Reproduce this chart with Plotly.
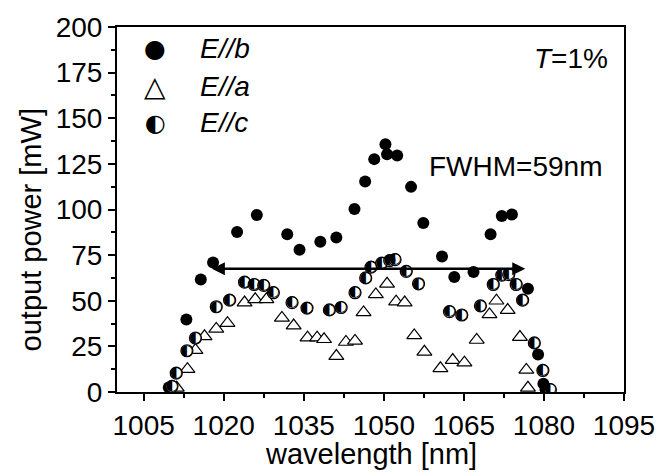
import plotly.graph_objects as go

# E//b (filled circles)
b_wl = [1009.7, 1013.0, 1015.7, 1018.0, 1022.5, 1026.2, 1031.9, 1034.2, 1038.1, 1041.1,
        1044.5, 1046.5, 1048.2, 1050.3, 1050.6, 1052.5, 1055.1, 1057.4, 1060.9, 1063.2,
        1066.8, 1070.0, 1072.1, 1074.0, 1077.0, 1078.9, 1079.9, 1080.3]
b_pw = [2.5, 39.7, 61.6, 71.0, 87.7, 97.0, 86.4, 78.0, 82.3, 84.6,
        100.3, 115.4, 127.6, 135.7, 130.3, 129.6, 112.4, 92.6, 74.2, 63.0,
        65.7, 86.4, 96.5, 97.2, 56.6, 20.6, 4.5, 1.5]

# E//a (open triangles)
a_wl = [1011.2, 1013.2, 1014.7, 1016.4, 1018.6, 1020.7, 1023.9, 1025.9, 1028.0, 1030.9,
        1033.1, 1035.7, 1037.5, 1038.8, 1041.1, 1042.9, 1044.6, 1046.2, 1048.5, 1050.6,
        1052.3, 1053.9, 1055.7, 1057.6, 1060.6, 1062.9, 1065.1, 1067.4, 1069.8, 1071.1,
        1073.2, 1075.5, 1076.7, 1077.0]
a_pw = [2.3, 12.5, 22.9, 30.5, 34.6, 37.7, 49.0, 50.8, 50.8, 40.6,
        36.4, 29.8, 29.8, 28.9, 19.7, 27.4, 28.0, 43.6, 53.5, 59.3,
        49.5, 49.0, 31.0, 22.0, 13.0, 17.5, 16.1, 28.5, 42.5, 50.0,
        44.9, 30.1, 12.1, 2.3]

# E//c (half-filled circles)
c_wl = [1010.3, 1011.1, 1013.1, 1014.7, 1018.6, 1021.1, 1023.9, 1025.7, 1027.5, 1029.3,
        1032.8, 1035.6, 1039.8, 1042.0, 1044.6, 1046.6, 1047.6, 1049.6, 1051.1, 1052.1,
        1054.2, 1056.5, 1062.3, 1064.6, 1068.1, 1070.5, 1072.1, 1073.4, 1074.8, 1076.0,
        1078.2, 1079.8, 1081.2]
c_pw = [3.1, 10.3, 22.6, 29.6, 46.7, 50.3, 60.2, 58.9, 58.4, 54.4,
        49.0, 46.0, 45.0, 46.3, 54.4, 62.5, 68.4, 70.6, 72.0, 72.5,
        66.1, 59.3, 44.0, 42.2, 47.2, 58.9, 64.0, 64.3, 58.9, 50.3,
        26.9, 11.8, 1.3]

# FWHM arrow
fwhm_start = 1017.5
fwhm_end = 1076.5
fwhm_level = 67.5

x_ticks = [1005, 1020, 1035, 1050, 1065, 1080, 1095]
y_ticks = [0, 25, 50, 75, 100, 125, 150, 175, 200]

FONT = "Liberation Sans, Arial, sans-serif"
SYMFONT = "DejaVu Sans"

fig = go.Figure()

fig.add_trace(go.Scatter(
    x=a_wl, y=a_pw, mode="markers", name="E//a",
    marker=dict(symbol="triangle-up", size=13, color="white",
                line=dict(color="black", width=1.2))))

fig.add_trace(go.Scatter(
    x=b_wl, y=b_pw, mode="markers", name="E//b",
    marker=dict(symbol="circle", size=12, color="black",
                line=dict(color="black", width=0))))

fig.add_trace(go.Scatter(
    x=c_wl, y=c_pw, mode="markers", name="E//c",
    marker=dict(symbol="circle", size=12, color="white",
                line=dict(color="black", width=1.2))))

fig.add_trace(go.Scatter(
    x=c_wl, y=c_pw, mode="text", name="E//c half",
    text=["\u25D0"] * len(c_wl), textposition="middle center",
    textfont=dict(family=SYMFONT, size=15, color="black"),
    hoverinfo="skip"))

fig.add_annotation(
    x=fwhm_end, y=fwhm_level, ax=fwhm_start, ay=fwhm_level,
    xref="x", yref="y", axref="x", ayref="y",
    showarrow=True, arrowhead=2, startarrowhead=2, arrowside="end+start",
    arrowwidth=2.6, arrowsize=1, startarrowsize=1, arrowcolor="black", text="")

# Text annotations
fig.add_annotation(text="FWHM=59nm", x=0.611, y=0.617, xref="paper", yref="paper",
                   xanchor="left", yanchor="middle", showarrow=False,
                   font=dict(family=FONT, size=28, color="black"))
fig.add_annotation(text="<i>T</i>=1%", x=0.972, y=0.914, xref="paper", yref="paper",
                   xanchor="right", yanchor="middle", showarrow=False,
                   font=dict(family=FONT, size=28, color="black"))

# Legend (manual)
leg_y = [44, 82, 119]
leg_sym = ["\u25CF", "\u25B3", "\u25D0"]
leg_size = [25, 28, 24]
leg_txt = ["<i>E//b</i>", "<i>E//a</i>", "<i>E//c</i>"]
for yy, s, fs, t in zip(leg_y, leg_sym, leg_size, leg_txt):
    py = (392.5 - yy) / 370.5
    fig.add_annotation(text=s, x=(155 - 116.6) / 507.4, y=py, xref="paper", yref="paper",
                       xanchor="center", yanchor="middle", showarrow=False,
                       font=dict(family=SYMFONT, size=fs, color="black"))
    fig.add_annotation(text=t, x=(198 - 116.6) / 507.4, y=py, xref="paper", yref="paper",
                       xanchor="left", yanchor="middle", showarrow=False,
                       font=dict(family=FONT, size=28, color="black"))

# Axis titles
fig.add_annotation(text="wavelength [nm]", x=0.5, y=(392.5 - 455) / 370.5,
                   xref="paper", yref="paper", xanchor="center", yanchor="middle",
                   showarrow=False, font=dict(family=FONT, size=29, color="black"))
fig.add_annotation(text="output power [mW]", x=(30 - 116.6) / 507.4, y=(392.5 - 228) / 370.5,
                   xref="paper", yref="paper", xanchor="center", yanchor="middle",
                   textangle=-90, showarrow=False,
                   font=dict(family=FONT, size=29, color="black"))

axis_common = dict(showgrid=False, zeroline=False, showline=True, linecolor="black",
                   linewidth=2, mirror=True, ticks="outside", ticklen=7, tickwidth=1.5,
                   tickcolor="black", tickfont=dict(family=FONT, size=28, color="black"))

fig.update_xaxes(range=[1000, 1095], tickmode="array", tickvals=x_ticks,
                 ticktext=[str(v) for v in x_ticks],
                 minor=dict(ticks="outside", ticklen=4, tickwidth=1.5, tickcolor="black",
                            dtick=7.5, tick0=1005),
                 **axis_common)
fig.update_yaxes(range=[0, 200], tickmode="array", tickvals=y_ticks,
                 ticktext=[str(v) for v in y_ticks],
                 minor=dict(ticks="outside", ticklen=4, tickwidth=1.5, tickcolor="black",
                            dtick=12.5, tick0=0),
                 **axis_common)

fig.update_layout(width=669, height=476, showlegend=False,
                  margin=dict(l=117, r=45, t=22, b=84),
                  plot_bgcolor="white", paper_bgcolor="white")

fig.write_html("out.html", config={"displayModeBar": False},
               post_script="document.body.style.margin='0';document.body.style.padding='0';"
                           "document.body.style.overflow='hidden';")
